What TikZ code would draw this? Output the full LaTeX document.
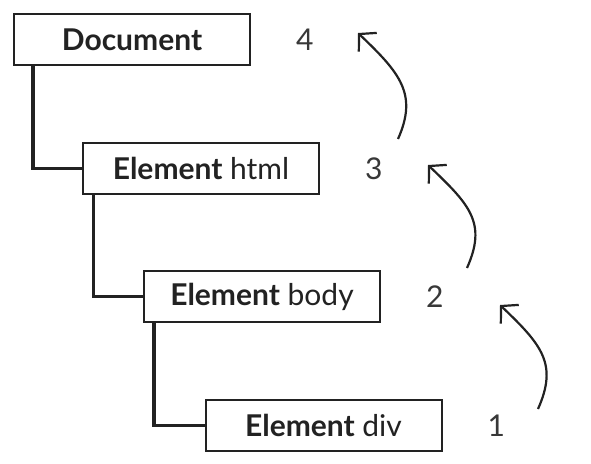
\documentclass[tikz,border=0pt]{standalone}
\usepackage{fontspec}
\setmainfont{Lato}
\usepackage{xcolor}
\usetikzlibrary{arrows.meta,positioning}
\definecolor{ink}{HTML}{222222}
\tikzset{
  domnode/.style={draw=ink, line width=2pt, fill=white, minimum width=236pt, minimum height=51pt, inner sep=0pt, text=ink, font=\fontsize{30}{34}\selectfont},
  treeline/.style={draw=ink, line width=3.5pt},
  depth/.style={inner sep=0pt, text=ink!90, font=\fontsize{30}{34}\selectfont},
  climb/.style={-{Straight Barb[length=12pt, width=26pt]}, line width=2.2pt, draw=ink},
}
\begin{document}
\begin{tikzpicture}[x=1pt, y=-1pt]
\useasboundingbox (0,0) rectangle (591,463);
\node[domnode] (doc)  at (132,39.5)   {\textbf{Document}};
\node[domnode] (html) at (201,168.5)  {\textbf{Element} html};
\node[domnode] (body) at (262,296.5)  {\textbf{Element} body};
\node[domnode] (div)  at (323.5,425.5) {\textbf{Element} div};
\draw[treeline] ([xshift=20pt]doc.south west) |- (html.west);
\draw[treeline] ([xshift=11.5pt]html.south west) |- (body.west);
\draw[treeline] ([xshift=11pt]body.south west) |- (div.west);
\node[depth, right=45pt of doc]  (d4) {4};
\node[depth, right=45pt of html] (d3) {3};
\node[depth, right=45pt of body] (d2) {2};
\node[depth, right=45pt of div]  (d1) {1};
% upward arrows between levels
\coordinate (s1) at (398,139); \coordinate (e1) at (358,33);
\coordinate (s2) at (467,268); \coordinate (e2) at (428,165);
\coordinate (s3) at (538,409); \coordinate (e3) at (500,305);
\draw[climb] (s1) .. controls +(20,-45) and +(42,40) .. (e1);
\draw[climb] (s2) .. controls +(20,-45) and +(42,40) .. (e2);
\draw[climb] (s3) .. controls +(20,-45) and +(42,40) .. (e3);
\end{tikzpicture}
\end{document}
